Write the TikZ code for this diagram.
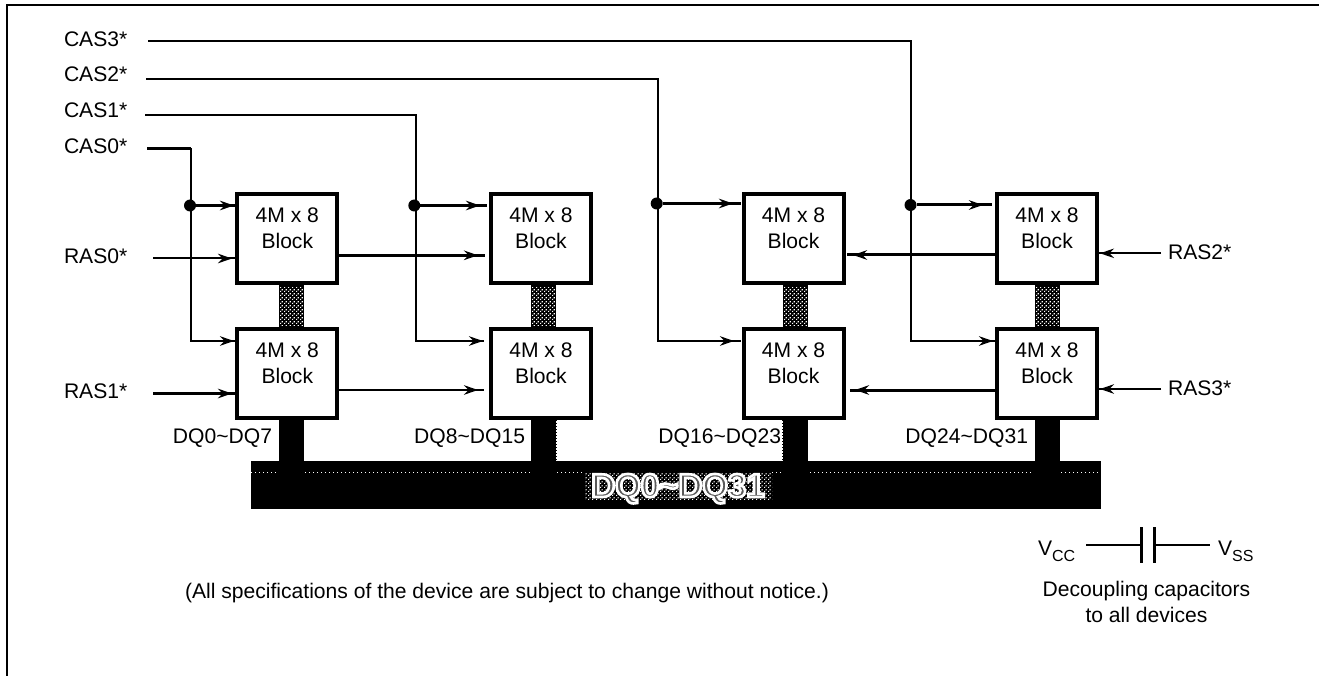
\documentclass[tikz,border=0pt]{standalone}
\usepackage{fontspec}
\setmainfont{Liberation Sans}
\usetikzlibrary{arrows.meta,patterns,decorations.markings}
\pgfdeclarepatternformonly{stipdots}{\pgfqpoint{0pt}{0pt}}{\pgfqpoint{4pt}{4pt}}{\pgfqpoint{4pt}{4pt}}{%
  \pgfpathrectangle{\pgfqpoint{0pt}{0pt}}{\pgfqpoint{1.4pt}{1.4pt}}%
  \pgfpathrectangle{\pgfqpoint{2pt}{2pt}}{\pgfqpoint{1.4pt}{1.4pt}}%
  \pgfusepath{fill}}
\tikzset{
  every node/.style={font=\fontsize{21.1}{26}\selectfont,inner sep=0pt,outer sep=0pt},
  blockbox/.style={draw=black,line width=4pt,fill=white,minimum width=100pt,minimum height=89.5pt},
  blocktext/.style={align=center},
  sig/.style={line width=2pt},
  sigb/.style={line width=3pt},
  headback/.style={decoration={markings,mark=at position -#1 with {\arrow{Stealth[length=14pt,width=9.5pt]}}},postaction={decorate}},
  lab/.style={anchor=base west},
  jdot/.style={circle,fill=black,minimum size=12pt},
  stipfill/.style={fill=black},
  stipdot/.style={pattern=stipdots,pattern color=white},
  solidbar/.style={fill=black},
  whitedots/.style={draw=white,line width=1pt,dash pattern=on 1pt off 3pt},
  edgedots/.style={draw=black,line width=1pt,dash pattern=on 1pt off 2pt},
}
\newcommand{\blockat}[3]{%
  \node[blockbox] (#1) at (#2,#3) {};
  \node[blocktext] (#1t) at ([yshift=10pt]#1.center) {4M x 8\\Block};
}
\begin{document}
\begin{tikzpicture}[x=1pt,y=-1pt]
\useasboundingbox (0,0) rectangle (1319,676);
% frame
\coordinate (fa) at (7,676); \coordinate (fb) at (7,5); \coordinate (fc) at (1319,5);
\draw[line width=2.4pt,line join=miter] (fa) -- (fb) -- (fc);
% bus
\node[solidbar,minimum width=850pt,minimum height=48pt] (bus) at (676,485) {};
\foreach \xa/\xb in {251/278,305/530,557/585,772/782,810/1033,1061/1101}
  \draw[whitedots] (\xa,472) -- (\xb,472);
% blocks
\blockat{a0}{287.3}{238.5}
\blockat{a1}{287.3}{373.5}
\blockat{b0}{541}{238.5}
\blockat{b1}{541}{373.5}
\blockat{c0}{793.5}{238.5}
\blockat{c1}{793.5}{373.5}
\blockat{d0}{1047}{238.5}
\blockat{d1}{1047}{373.5}
% bars between the blocks and to the bus
\foreach \cx in {291.5,543.5,795.5,1047.5}{
  \fill[stipfill] (\cx-12.5,285) rectangle (\cx+12.5,327);
  \fill[stipdot] (\cx-12.5,287) rectangle (\cx+12.5,325);
  \fill[solidbar] (\cx-12.5,420) rectangle (\cx+12.5,462);
}
\draw[edgedots] (556.5,420) -- (556.5,461);
\draw[edgedots] (782.5,420) -- (782.5,461);
% bus label
\fill[stipfill] (585,472) rectangle (772,499);
\fill[stipdot] (585,472) rectangle (772,499);
\node[anchor=base,font=\fontsize{33}{33}\selectfont\bfseries,text=white] (buslab) at (678,497)
  {\special{pdf:code 2 Tr 2.6 w 1 1 1 RG 0.35 0.35 0.35 rg}DQ0\textasciitilde DQ31\special{pdf:code 0 Tr 0 0 0 rg}};
% labels
\node[lab] (cas3) at (64,47) {CAS3*};
\node[lab] (cas2) at (64,82) {CAS2*};
\node[lab] (cas1) at (64,118) {CAS1*};
\node[lab] (cas0) at (64,154) {CAS0*};
\node[lab] (ras0) at (64,263) {RAS0*};
\node[lab] (ras1) at (64,398) {RAS1*};
\node[lab] (ras2) at (1168,260) {RAS2*};
\node[lab] (ras3) at (1168,395) {RAS3*};
\node[anchor=base east] (q0) at (272,443) {DQ0\textasciitilde DQ7};
\node[anchor=base east] (q1) at (525,443) {DQ8\textasciitilde DQ15};
\node[anchor=base east] (q2) at (781,443) {DQ16\textasciitilde DQ23};
\node[anchor=base east] (q3) at (1028,443) {DQ24\textasciitilde DQ31};
% CAS lines
\coordinate (s3) at (148,41.5); \coordinate (s2) at (146,79.5);
\coordinate (s1) at (145,115.5); \coordinate (s0) at (147,148.5);
\node[jdot] (j0) at (190,205.5) {};
\node[jdot] (j1) at (414.3,205.5) {};
\node[jdot] (j2) at (656.7,203.5) {};
\node[jdot] (j3) at (910.5,205) {};
\draw[sigb] (s0) -- (191,148.5);
\draw[sig,headback=1pt] (191,148.5) -- (191,341) -- ([xshift=-2.3pt]a1.west |- 0,341);
\draw[sig,headback=1pt] (s1) -- (416,115.5) -- (416,341) -- ([xshift=-7pt]b1.west |- 0,341);
\draw[sig,headback=7pt] (s2) -- (657.5,79.5) -- (657.5,341) -- ([xshift=-2.5pt]c1.west |- 0,341);
\draw[sig,headback=3pt] (s3) -- (910.7,41.5) -- (910.7,341) -- ([xshift=-1pt]d1.west |- 0,341);
\draw[sigb,headback=1pt] (j0) -- ([xshift=-2.3pt]a0.west |- j0);
\draw[sigb,headback=7pt] (j1) -- ([xshift=-4pt]b0.west |- j1);
\draw[sigb,headback=8pt] (j2) -- ([xshift=-2.5pt]c0.west |- j2);
\draw[sigb,headback=9pt] (j3) -- ([xshift=-5pt]d0.west |- j3);
% RAS lines
\coordinate (r0) at (153,258.5); \coordinate (r1) at (153,393.5);
\coordinate (r2) at (1161,253.3); \coordinate (r3) at (1161,389);
\draw[sig,headback=4pt] (r0) -- ([xshift=-1.3pt]a0.west |- r0);
\draw[sigb,headback=4pt] (r1) -- ([xshift=-1.3pt]a1.west |- r1);
\draw[sig,headback=1pt] (r2) -- ([xshift=2pt]d0.east |- r2);
\draw[sig,headback=1pt] (r3) -- ([xshift=2pt]d1.east |- r3);
% data links
\draw[sigb,headback=7pt] (a0.east |- 0,255.3) -- ([xshift=-6pt]b0.west |- 0,255.3);
\draw[sig,headback=6pt] (a1.east |- 0,390) -- ([xshift=-7pt]b1.west |- 0,390);
\draw[sigb,headback=6pt] (d0.west |- 0,255) -- ([xshift=3.5pt]c0.east |- 0,255);
\draw[sigb,headback=5pt] (d1.west |- 0,390) -- ([xshift=6.5pt]c1.east |- 0,390);
% capacitor
\node[anchor=base west] (vcc) at (1038,555) {V\raisebox{-6pt}{\fontsize{16}{16}\selectfont CC}};
\node[anchor=base west] (vss) at (1218,555) {V\raisebox{-6pt}{\fontsize{16}{16}\selectfont SS}};
\coordinate (pl) at (1141.5,545); \coordinate (pr) at (1154.5,545);
\draw[sig] (1086,545) -- (pl);
\draw[sig] (pr) -- (1210,545);
\draw[line width=3.2pt] (1141.5,527) -- (1141.5,563);
\draw[line width=3.2pt] (1154.5,527) -- (1154.5,563);
\node[align=center,anchor=north] (dec) at (1146.5,581.5) {Decoupling capacitors\\to all devices};
\node[anchor=base west] (note) at (185,598) {(All specifications of the device are subject to change without notice.)};
\end{tikzpicture}
\end{document}
